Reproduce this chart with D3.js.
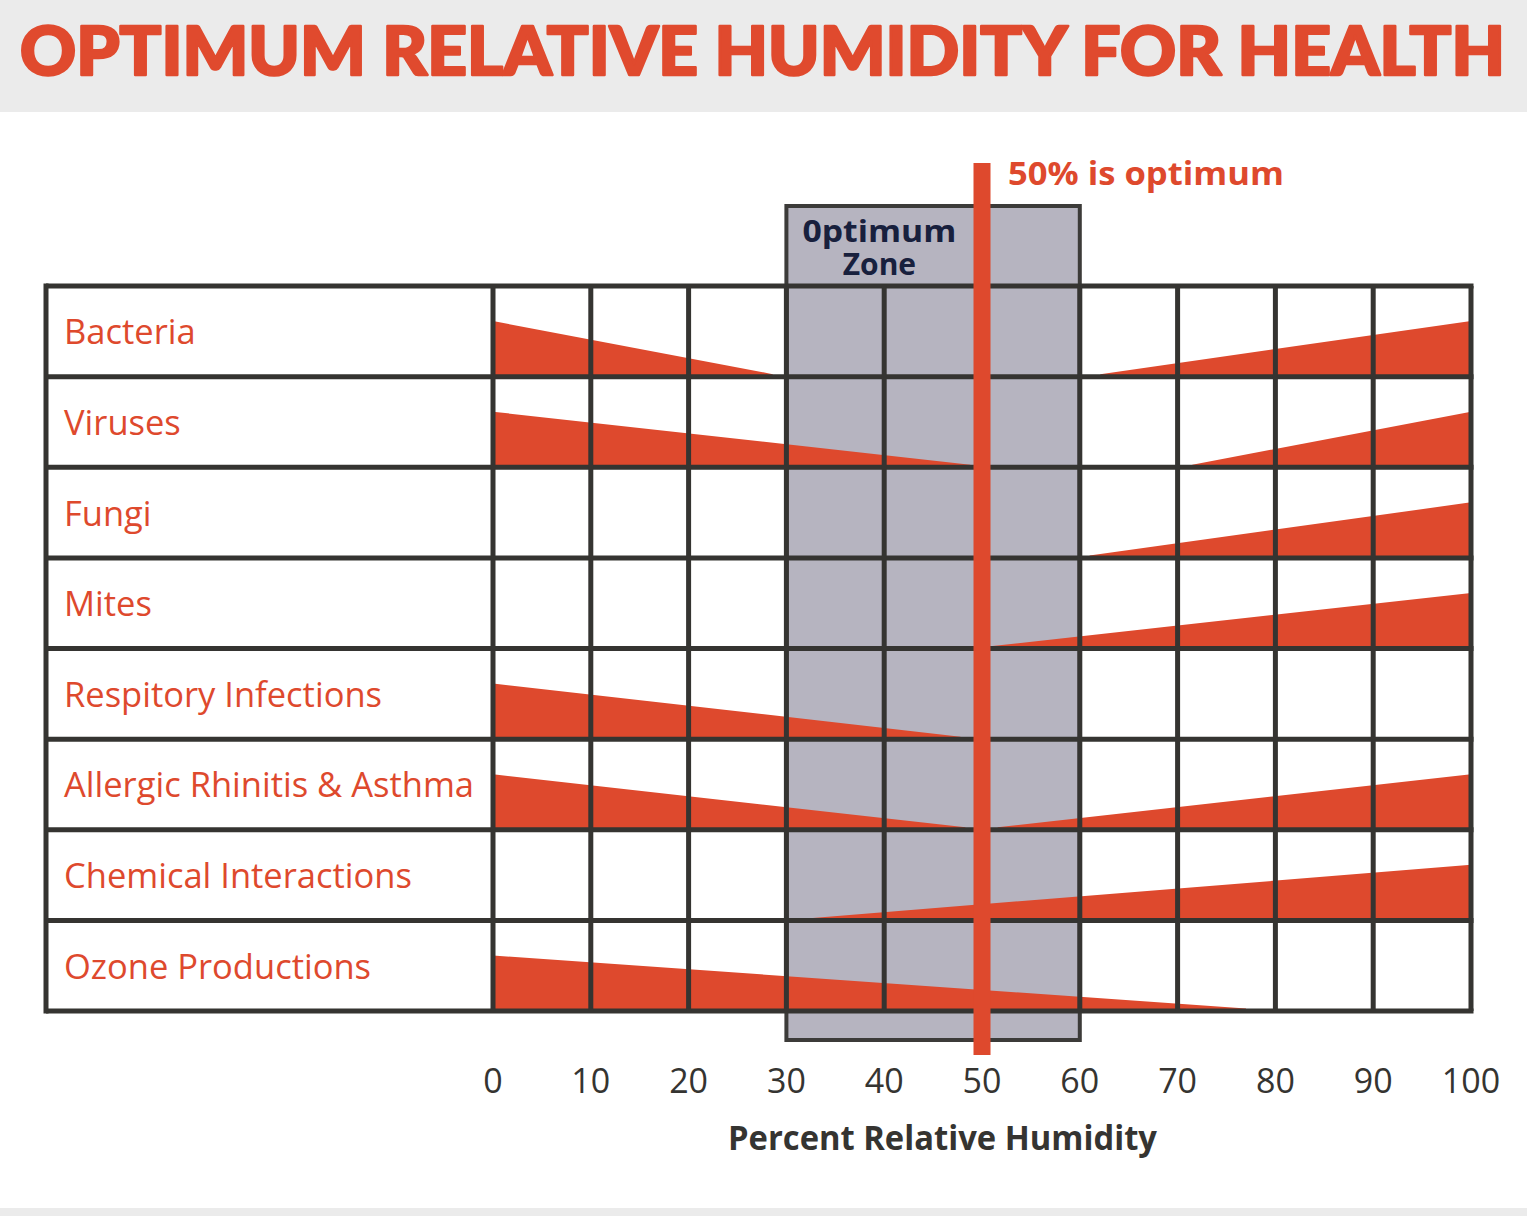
<!DOCTYPE html>
<html>
<head>
<meta charset="utf-8">
<script src="https://cdn.jsdelivr.net/npm/d3@7"></script>
<style>
  html, body { margin: 0; padding: 0; background: #ffffff; }
  svg { display: block; }
</style>
</head>
<body>
<div id="chart"></div>
<script>
// rows of the chart, top to bottom
var categories = ['Bacteria', 'Viruses', 'Fungi', 'Mites', 'Respitory Infections',
                  'Allergic Rhinitis & Asthma', 'Chemical Interactions', 'Ozone Productions'];
// humidity % where the left (dry side) wedge reaches zero; null = no wedge
var leftEnd    = [28.6, 48.8, null, null, 47.8, 48.3, null, 77];
// humidity % where the right (humid side) wedge starts; null = no wedge
var rightStart = [62.1, 71.5, 61, 51.1, null, 51.6, 32.7, null];
var ticks = [0, 10, 20, 30, 40, 50, 60, 70, 80, 90, 100];
var zone = [30, 60];
var optimum = 50;

var width = 1527, height = 1216;
var red = '#de492d', dark = '#353431';

var svg = d3.select('#chart').append('svg')
    .attr('width', width)
    .attr('height', height);

// banner
svg.append('rect').attr('x', 0).attr('y', 0).attr('width', width).attr('height', 112).attr('fill', '#ebebeb');
svg.append('rect').attr('x', 0).attr('y', 1208).attr('width', width).attr('height', 8).attr('fill', '#ebebeb');
svg.append('text')
    .attr('x', 20).attr('y', 75)
    .attr('textLength', 1485).attr('lengthAdjust', 'spacingAndGlyphs')
    .style('font-family', 'Lato, Roboto, "DejaVu Sans", sans-serif')
    .style('font-weight', 900)
    .style('font-size', '66px')
    .attr('fill', '#e04a2e')
    .attr('stroke', '#e04a2e')
    .attr('stroke-width', 2.5)
    .attr('stroke-linejoin', 'round')
    .text('OPTIMUM RELATIVE HUMIDITY FOR HEALTH');

var x = d3.scaleLinear().domain([0, 100]).range([493, 1471]);
var y = d3.scaleBand().domain(categories).range([286, 1011]);
var labelLeft = 46;
var wedge = y.bandwidth() * 0.585;
var lineHalf = 2.5;

// optimum zone
svg.append('rect')
    .attr('x', x(zone[0])).attr('y', 206)
    .attr('width', x(zone[1]) - x(zone[0])).attr('height', 1040 - 206)
    .attr('fill', '#b6b4c0')
    .attr('stroke', '#3c3b39')
    .attr('stroke-width', 4);

var zoneLabelX = x(zone[0]) + 93;
svg.append('text')
    .attr('x', zoneLabelX).attr('y', 242)
    .attr('text-anchor', 'middle')
    .attr('textLength', 154).attr('lengthAdjust', 'spacingAndGlyphs')
    .style('font-family', '"Open Sans", sans-serif')
    .style('font-weight', 700).style('font-size', '30px')
    .attr('fill', '#18203d')
    .text('0ptimum');
svg.append('text')
    .attr('x', zoneLabelX).attr('y', 275)
    .attr('text-anchor', 'middle')
    .style('font-family', '"Open Sans", sans-serif')
    .style('font-weight', 700).style('font-size', '30px')
    .attr('fill', '#18203d')
    .text('Zone');

// wedges
var rows = categories.map(function(c, i) {
  return { name: c, left: leftEnd[i], right: rightStart[i] };
});

svg.selectAll('.leftwedge')
    .data(rows.filter(function(d) { return d.left != null; }))
  .enter().append('path')
    .attr('class', 'leftwedge')
    .attr('fill', red)
    .attr('d', function(d) {
      var b = y(d.name) + y.bandwidth() - lineHalf;
      return 'M' + x(0) + ',' + (b + lineHalf) + 'L' + x(0) + ',' + (b - wedge) + 'L' + x(d.left) + ',' + b +
             'L' + x(d.left) + ',' + (b + lineHalf) + 'Z';
    });

svg.selectAll('.rightwedge')
    .data(rows.filter(function(d) { return d.right != null; }))
  .enter().append('path')
    .attr('class', 'rightwedge')
    .attr('fill', red)
    .attr('d', function(d) {
      var b = y(d.name) + y.bandwidth() - lineHalf;
      return 'M' + x(d.right) + ',' + (b + lineHalf) + 'L' + x(d.right) + ',' + b + 'L' + x(100) + ',' + (b - wedge) +
             'L' + x(100) + ',' + (b + lineHalf) + 'Z';
    });

// grid
var rowEdges = categories.map(function(c) { return y(c); }).concat([y.range()[1]]);
svg.selectAll('.hline')
    .data(rowEdges)
  .enter().append('line')
    .attr('x1', labelLeft).attr('x2', x(100) + lineHalf)
    .attr('y1', function(d) { return d; }).attr('y2', function(d) { return d; })
    .attr('stroke', dark).attr('stroke-width', 5);

svg.selectAll('.vline')
    .data(ticks)
  .enter().append('line')
    .attr('x1', function(d) { return x(d); }).attr('x2', function(d) { return x(d); })
    .attr('y1', 286).attr('y2', 1011)
    .attr('stroke', dark).attr('stroke-width', 5);

svg.append('line')
    .attr('x1', labelLeft).attr('x2', labelLeft)
    .attr('y1', 286 - lineHalf).attr('y2', 1011 + lineHalf)
    .attr('stroke', dark).attr('stroke-width', 5);

// row labels
svg.selectAll('.rowlabel')
    .data(categories)
  .enter().append('text')
    .attr('x', 64)
    .attr('y', function(d) { return y(d) + y.bandwidth() / 2 + 13; })
    .style('font-family', '"Open Sans", sans-serif')
    .style('font-size', '34.5px')
    .attr('fill', red)
    .text(function(d) { return d; });

// optimum line
svg.append('rect')
    .attr('x', x(optimum) - 8.5).attr('y', 163)
    .attr('width', 17).attr('height', 1055 - 163)
    .attr('fill', red);

svg.append('text')
    .attr('x', 1008).attr('y', 185)
    .attr('textLength', 276).attr('lengthAdjust', 'spacingAndGlyphs')
    .style('font-family', '"Open Sans", sans-serif')
    .style('font-weight', 700).style('font-size', '33px')
    .attr('fill', red)
    .text('50% is optimum');

// axis
svg.selectAll('.tick')
    .data(ticks)
  .enter().append('text')
    .attr('x', function(d) { return x(d); })
    .attr('y', 1093)
    .attr('text-anchor', 'middle')
    .style('font-family', '"Open Sans", sans-serif')
    .style('font-size', '34px')
    .attr('fill', dark)
    .text(function(d) { return d; });

svg.append('text')
    .attr('x', 728).attr('y', 1150)
    .attr('textLength', 429).attr('lengthAdjust', 'spacingAndGlyphs')
    .style('font-family', '"Open Sans", sans-serif')
    .style('font-weight', 700).style('font-size', '34px')
    .attr('fill', dark)
    .text('Percent Relative Humidity');
</script>
</body>
</html>
